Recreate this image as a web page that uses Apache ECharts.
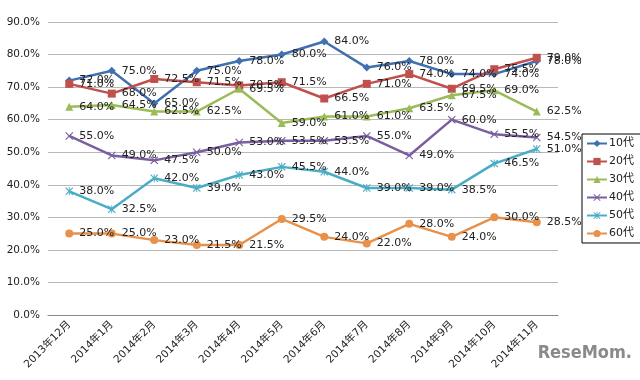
<!DOCTYPE html>
<html><head><meta charset="utf-8">
<script src="https://cdn.jsdelivr.net/npm/echarts@6/dist/echarts.min.js"></script>
<style>html,body{margin:0;padding:0;background:#fff}#c{width:640px;height:380px}</style>
</head><body><div id="c"></div>
<script>
const categories = ['2013年12月','2014年1月','2014年2月','2014年3月','2014年4月','2014年5月','2014年6月','2014年7月','2014年8月','2014年9月','2014年10月','2014年11月'];
const seriesNames = ['10代','20代','30代','40代','50代','60代'];
const s10 = [72.0,75.0,65.0,75.0,78.0,80.0,84.0,76.0,78.0,74.0,74.0,78.0];
const s20 = [71.0,68.0,72.5,71.5,70.5,71.5,66.5,71.0,74.0,69.5,75.5,79.0];
const s30 = [64.0,64.5,62.5,62.5,69.5,59.0,61.0,61.0,63.5,67.5,69.0,62.5];
const s40 = [55.0,49.0,47.5,50.0,53.0,53.5,53.5,55.0,49.0,60.0,55.5,54.5];
const s50 = [38.0,32.5,42.0,39.0,43.0,45.5,44.0,39.0,39.0,38.5,46.5,51.0];
const s60 = [25.0,25.0,23.0,21.5,21.5,29.5,24.0,22.0,28.0,24.0,30.0,28.5];
const allData = [s10,s20,s30,s40,s50,s60];
const colors = ['#4070B0','#C0504D','#9BBB59','#7A5FA0','#4BACC6','#E8914A'];
const X = 'path://M0,1L1,0L5,4L9,0L10,1L6,5L10,9L9,10L5,6L1,10L0,9L4,5Z';
const AST = 'path://M0,1L1,0L5,4L9,0L10,1L6,5L10,9L9,10L5,6L1,10L0,9L4,5ZM4.4,0L5.6,0L5.6,10L4.4,10Z';
const symbols = ['diamond','rect','triangle',X,AST,'circle'];
const font = 'DejaVu Sans, Noto Sans CJK JP, sans-serif';
const chart = echarts.init(document.getElementById('c'));
chart.setOption({
  animation:false,
  color:colors,
  textStyle:{fontFamily:font},
  grid:{left:48,right:82,top:22,bottom:65},
  legend:{
    orient:'vertical', left:582, top:134, itemWidth:20, itemHeight:9, itemGap:7,
    borderColor:'#000', borderWidth:1, padding:[4,50,4,4],
    textStyle:{fontSize:11,color:'#222',fontFamily:font,padding:[0,0,0,-3]},
    data:seriesNames
  },
  xAxis:{
    type:'category', data:categories, boundaryGap:true,
    axisLine:{lineStyle:{color:'#888'}},
    axisTick:{lineStyle:{color:'#888'},length:4},
    axisLabel:{rotate:45,fontSize:10.5,color:'#222',margin:8,fontFamily:font}
  },
  yAxis:{
    type:'value', min:0, max:90, interval:10,
    axisLine:{show:false}, axisTick:{show:false},
    splitLine:{lineStyle:{color:'#b8b8b8',width:1}},
    axisLabel:{formatter:v=>v.toFixed(1)+'%',fontSize:10.5,color:'#222',margin:8,fontFamily:font}
  },
  graphic:[{type:'text',right:8,top:344,style:{text:'ReseMom.',fill:'#8a8a8a',font:'bold 18px "DejaVu Sans Condensed", sans-serif'}}],
  series: seriesNames.map((n,i)=>({
    name:n, type:'line', data:allData[i],
    symbol:symbols[i], symbolSize:8,
    lineStyle:{width:2.5,color:colors[i]},
    itemStyle:{color:colors[i]},
    label:{show:true,position:'right',distance:6,formatter:p=>p.value.toFixed(1)+'%',fontSize:11,color:'#222',fontFamily:font},
    labelLayout:{hideOverlap:false}
  }))
});
</script></body></html>
